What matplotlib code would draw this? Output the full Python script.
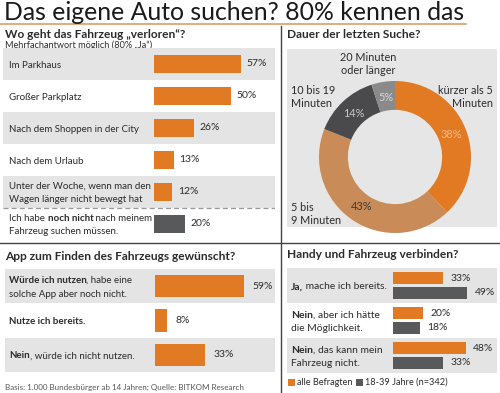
import matplotlib
matplotlib.use("Agg")
import matplotlib.pyplot as plt
from matplotlib.patches import Rectangle
from matplotlib.lines import Line2D
from matplotlib.transforms import ScaledTranslation
from matplotlib.font_manager import FontProperties, findfont, get_font
import numpy as np

plt.rcParams['font.family'] = ['Lato', 'DejaVu Sans']

# ---------------- data ----------------
title = "Das eigene Auto suchen? 80% kennen das"

q1_title = "Wo geht das Fahrzeug „verloren“?"
q1_sub = "Mehrfachantwort möglich (80% „Ja“)"
q1_labels = [
    [[("Im Parkhaus", False)]],
    [[("Großer Parkplatz", False)]],
    [[("Nach dem Shoppen in der City", False)]],
    [[("Nach dem Urlaub", False)]],
    [[("Unter der Woche, wenn man den", False)], [("Wagen länger nicht bewegt hat", False)]],
    [[("Ich habe ", False), ("noch nicht", True), (" nach meinem", False)],
     [("Fahrzeug suchen müssen.", False)]],
]
q1_values = [57, 50, 26, 13, 12, 20]

q2_title = "Dauer der letzten Suche?"
q2_labels = ["kürzer als 5\nMinuten", "5 bis\n9 Minuten", "10 bis 19\nMinuten", "20 Minuten\noder länger"]
q2_values = [38, 43, 14, 5]

q3_title = "App zum Finden des Fahrzeugs gewünscht?"
q3_labels = [
    [[("Würde ich nutzen", True), (", habe eine", False)], [("solche App aber noch nicht.", False)]],
    [[("Nutze ich bereits.", True)]],
    [[("Nein", True), (", würde ich nicht nutzen.", False)]],
]
q3_values = [59, 8, 33]

q4_title = "Handy und Fahrzeug verbinden?"
q4_labels = [
    [[("Ja,", True), (" mache ich bereits.", False)]],
    [[("Nein", True), (", aber ich hätte", False)], [("die Möglichkeit.", False)]],
    [[("Nein", True), (", das kann mein", False)], [("Fahrzeug nicht.", False)]],
]
q4_all = [33, 20, 48]
q4_young = [49, 18, 33]
q4_series = ["alle Befragten", "18-39 Jahre (n=342)"]

footer = "Basis: 1.000 Bundesbürger ab 14 Jahren; Quelle: BITKOM Research"

# ---------------- style ----------------
ORANGE = "#e27a24"
TAN = "#c98b57"
DARK = "#58595b"
DARK2 = "#4a4a4c"
MID = "#8a8a8a"
BAND = "#e4e4e4"
TXT = "#2b2b2b"
LBL = 7.0
VAL = 7.5
TTL = 8.6

W, H = 500, 393
fig = plt.figure(figsize=(W / 100, H / 100), dpi=100)
fig.patch.set_facecolor("white")
renderer = fig.canvas.get_renderer()


def add_ax(x0, y0, x1, y1, **kw):
    """axes from pixel box (top-left origin)"""
    return fig.add_axes([x0 / W, 1 - y1 / H, (x1 - x0) / W, (y1 - y0) / H], **kw)


ov = add_ax(0, 0, W, H, zorder=0)
ov.set_xlim(0, W)
ov.set_ylim(H, 0)
ov.axis("off")


def adv_width(txt, size, weight):
    """pen advance (inches) of a text piece"""
    try:
        fp = FontProperties(family=['Lato'], weight=weight, size=size)
        font = get_font(findfont(fp))
        font.set_size(size, fig.dpi)
        total = 0.0
        for c in txt:
            g = font.load_char(ord(c))
            total += g.linearHoriAdvance / 65536.0
        return total / fig.dpi
    except Exception:
        def w(s):
            t = fig.text(0, 0, s, fontsize=size, fontweight=weight)
            bw = t.get_window_extent(renderer).width
            t.remove()
            return bw
        return (w("x" + txt + "x") - w("xx")) / fig.dpi


def rich_line(ax, x, y, segs, size, transform, color=TXT):
    down = -0.36 * size / 72.0
    dx = 0.0
    for txt, bold in segs:
        wgt = "bold" if bold else "normal"
        tr = transform + ScaledTranslation(dx, down, fig.dpi_scale_trans)
        ax.text(x, y, txt, fontsize=size, fontweight=wgt, color=color,
                ha="left", va="baseline", transform=tr)
        dx += adv_width(txt, size, wgt)


def rich_label(ax, x, yc, lines, size, lh, transform):
    n = len(lines)
    for i, segs in enumerate(lines):
        y = yc + (i - (n - 1) / 2) * lh
        rich_line(ax, x, y, segs, size, transform)


# title & frame lines
ov.text(4, 12, title, fontsize=17.8, color="#1a1a1a", ha="left", va="center")
ov.add_line(Line2D([0, 466], [23.5, 23.5], color="#d9a066", lw=1.2))
ov.add_line(Line2D([281, 281], [26, H], color="#444444", lw=1.0))
ov.add_line(Line2D([0, W], [243, 243], color="#444444", lw=1.0))

# ---------------- panel 1 ----------------
ov.text(5, 35, q1_title, fontsize=TTL, fontweight="bold", color=TXT, va="center")
ov.text(5, 45.5, q1_sub, fontsize=6.6, color=TXT, va="center")

PX1 = 1.53
x0p, x1p, zero = 3, 275, 154
ax1 = add_ax(x0p, 48, x1p, 240)
ax1.set_xlim((x0p - zero) / PX1, (x1p - zero) / PX1)
ax1.set_ylim(len(q1_values) - 0.5, -0.5)
ax1.axis("off")
for i in range(len(q1_values)):
    if i % 2 == 0 and i < 5:
        ax1.axhspan(i - 0.5, i + 0.5, color=BAND, lw=0)
cols1 = [ORANGE] * 5 + [DARK]
ax1.barh(range(len(q1_values)), q1_values, height=0.58, color=cols1)
for i, v in enumerate(q1_values):
    ax1.annotate(f"{v}%", xy=(v, i), xytext=(4, 0), textcoords="offset points",
                 fontsize=VAL, color=TXT, ha="left", va="center")
    rich_label(ax1, 6 / (x1p - x0p), i, q1_labels[i], LBL, 0.41,
               ax1.get_yaxis_transform())
ax1.axhline(4.5, color="#9a9a9a", lw=0.9, ls=(0, (4, 2.5)))

# ---------------- panel 2 (donut) ----------------
ov.text(287, 35, q2_title, fontsize=TTL, fontweight="bold", color=TXT, va="center")
ov.add_patch(Rectangle((287, 49), 210, 178, color="#e6e6e6", lw=0))
cx, cy, r = 395, 157, 76
ax2 = add_ax(cx - r, cy - r, cx + r, cy + r)
ax2.set_facecolor("none")
wedges, _ = ax2.pie(q2_values, colors=[ORANGE, TAN, DARK2, MID], startangle=90,
                    counterclock=False, radius=1,
                    wedgeprops=dict(width=0.38, linewidth=0))
ax2.set_xlim(-1, 1)
ax2.set_ylim(-1, 1)
ax2.set_aspect("equal")
inner_cols = ["#f5b889", "#3a3a3a", "#c8c8c8", "#d8d8d8"]
start = 90.0
tot = sum(q2_values)
for v, c in zip(q2_values, inner_cols):
    ang = np.deg2rad(start - v / tot * 360 / 2)
    start -= v / tot * 360
    ax2.text(0.79 * np.cos(ang), 0.79 * np.sin(ang), f"{v}%", fontsize=7.8,
             color=c, ha="center", va="center")
ov.text(493, 97, q2_labels[0], fontsize=7.8, color=TXT, ha="right", va="center",
        linespacing=1.2)
ov.text(291, 214, q2_labels[1], fontsize=7.8, color=TXT, ha="left", va="center",
        linespacing=1.2)
ov.text(291, 97, q2_labels[2], fontsize=7.8, color=TXT, ha="left", va="center",
        linespacing=1.2)
ov.text(368, 64, q2_labels[3], fontsize=7.8, color=TXT, ha="center", va="center",
        linespacing=1.2)

# ---------------- panel 3 ----------------
ov.text(5, 257, q3_title, fontsize=TTL, fontweight="bold", color=TXT, va="center")
PX3 = 1.51
x0p, x1p, zero = 5, 275, 155
ax3 = add_ax(x0p, 269, x1p, 372)
ax3.set_xlim((x0p - zero) / PX3, (x1p - zero) / PX3)
ax3.set_ylim(len(q3_values) - 0.5, -0.5)
ax3.axis("off")
for i in range(len(q3_values)):
    if i % 2 == 0:
        ax3.axhspan(i - 0.5, i + 0.5, color=BAND, lw=0)
ax3.barh(range(len(q3_values)), q3_values, height=0.66, color=ORANGE)
for i, v in enumerate(q3_values):
    ax3.annotate(f"{v}%", xy=(v, i), xytext=(6, 0), textcoords="offset points",
                 fontsize=VAL, color=TXT, ha="left", va="center")
    rich_label(ax3, 4 / (x1p - x0p), i, q3_labels[i], LBL, 0.40,
               ax3.get_yaxis_transform())
ov.text(5, 387, footer, fontsize=5.8, color="#555555", va="center")

# ---------------- panel 4 ----------------
ov.text(287, 255, q4_title, fontsize=TTL, fontweight="bold", color=TXT, va="center")
PX4 = 1.52
x0p, x1p, zero = 287, 497, 393
ax4 = add_ax(x0p, 268, x1p, 373)
ax4.set_xlim((x0p - zero) / PX4, (x1p - zero) / PX4)
ax4.set_ylim(len(q4_all) - 0.5, -0.5)
ax4.axis("off")
for i in range(len(q4_all)):
    if i % 2 == 0:
        ax4.axhspan(i - 0.5, i + 0.5, color=BAND, lw=0)
ys = np.arange(len(q4_all))
ax4.barh(ys - 0.21, q4_all, height=0.34, color=ORANGE, label=q4_series[0])
ax4.barh(ys + 0.21, q4_young, height=0.34, color=DARK, label=q4_series[1])
for i in range(len(q4_all)):
    ax4.annotate(f"{q4_all[i]}%", xy=(q4_all[i], i - 0.21), xytext=(5, 0),
                 textcoords="offset points", fontsize=VAL, color=TXT, ha="left", va="center")
    ax4.annotate(f"{q4_young[i]}%", xy=(q4_young[i], i + 0.21), xytext=(5, 0),
                 textcoords="offset points", fontsize=VAL, color=TXT, ha="left", va="center")
    rich_label(ax4, 4 / (x1p - x0p), i, q4_labels[i], LBL + 0.4, 0.38,
               ax4.get_yaxis_transform())

# legend
ov.add_patch(Rectangle((287.5, 379), 7, 7, color=ORANGE, lw=0))
ov.text(297, 382.5, q4_series[0], fontsize=6.6, color=TXT, va="center")
ov.add_patch(Rectangle((356, 379), 7, 7, color=DARK, lw=0))
ov.text(365, 382.5, q4_series[1], fontsize=6.6, color=TXT, va="center")

fig.savefig("out.png", dpi=100)
